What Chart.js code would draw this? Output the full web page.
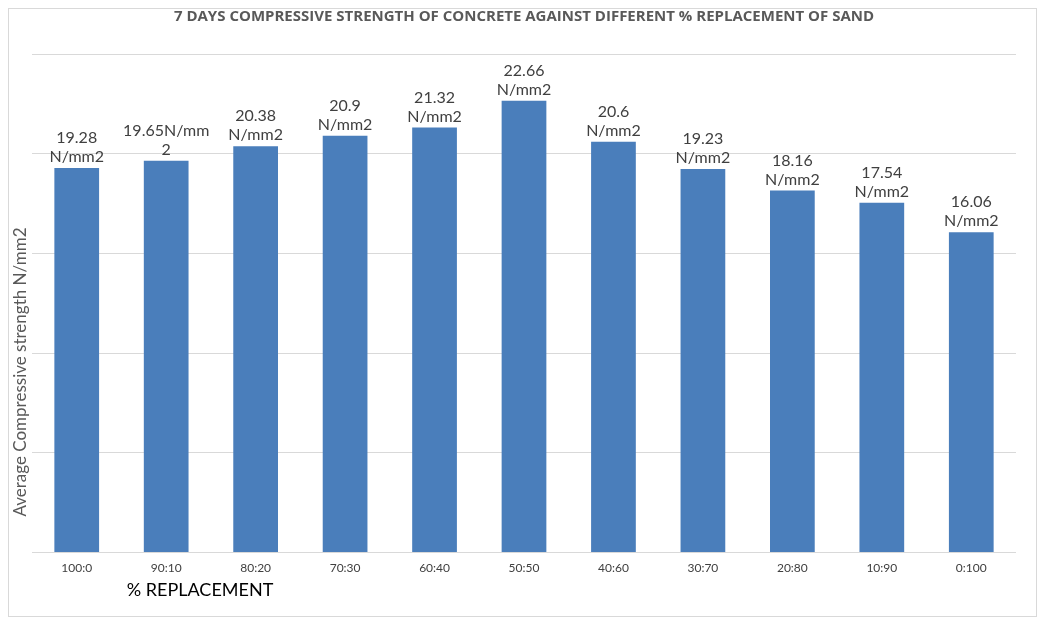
<!DOCTYPE html>
<html>
<head>
<meta charset="utf-8">
<script src="https://cdn.jsdelivr.net/npm/chart.js@4.4.1/dist/chart.umd.min.js"></script>
<style>
  body { margin: 0; background: #fff; }
  #wrap { width: 1040px; height: 619px; }
</style>
</head>
<body>
<div id="wrap"><canvas id="strengthChart" width="1040" height="619"></canvas></div>
<script>
const categories = ['100:0', '90:10', '80:20', '70:30', '60:40', '50:50', '40:60', '30:70', '20:80', '10:90', '0:100'];
const strength = [19.28, 19.65, 20.38, 20.9, 21.32, 22.66, 20.6, 19.23, 18.16, 17.54, 16.06];
const barLabels = [
    ['19.28', 'N/mm2'], ['19.65N/mm', '2'], ['20.38', 'N/mm2'], ['20.9', 'N/mm2'],
    ['21.32', 'N/mm2'], ['22.66', 'N/mm2'], ['20.6', 'N/mm2'], ['19.23', 'N/mm2'],
    ['18.16', 'N/mm2'], ['17.54', 'N/mm2'], ['16.06', 'N/mm2']
];
const yTicks = [0, 5, 10, 15, 20, 25];

const FONT = 'Lato, "Open Sans", sans-serif';

// frame, axis titles and value labels
const extras = {
    id: 'extras',
    beforeDraw(chart) {
        const ctx = chart.ctx;
        ctx.save();
        ctx.fillStyle = '#fff';
        ctx.fillRect(0, 0, chart.width, chart.height);
        ctx.strokeStyle = '#d9d9d9';
        ctx.lineWidth = 1;
        ctx.strokeRect(8.5, 8.5, 1028, 608);
        ctx.restore();
    },
    afterDatasetsDraw(chart) {
        const ctx = chart.ctx;
        const bars = chart.getDatasetMeta(0).data;
        ctx.save();
        ctx.fillStyle = '#404040';
        ctx.font = '16px ' + FONT;
        ctx.textAlign = 'center';
        ctx.textBaseline = 'middle';
        bars.forEach((bar, i) => {
            const lines = barLabels[i];
            lines.forEach((t, j) => {
                ctx.fillText(t, bar.x, bar.y - 11 - (lines.length - 1 - j) * 19);
            });
        });

        // y axis title
        ctx.fillStyle = '#595959';
        ctx.font = '17px ' + FONT;
        ctx.translate(21, 372);
        ctx.rotate(-Math.PI / 2);
        ctx.fillText('Average Compressive strength N/mm2', 0, 0);
        ctx.restore();

        // x axis title
        ctx.save();
        ctx.fillStyle = '#000';
        ctx.font = '18px ' + FONT;
        ctx.textAlign = 'center';
        ctx.textBaseline = 'middle';
        ctx.fillText('% REPLACEMENT', 200, 590);
        ctx.restore();
    }
};

new Chart(document.getElementById('strengthChart'), {
    type: 'bar',
    data: {
        labels: categories,
        datasets: [{
            label: '7 days strength',
            data: strength,
            backgroundColor: '#4a7ebb',
            categoryPercentage: 1,
            barPercentage: 0.5
        }]
    },
    options: {
        responsive: false,
        animation: false,
        layout: { padding: { left: 32, right: 24, top: 0, bottom: 44 } },
        plugins: {
            legend: { display: false },
            tooltip: { enabled: false },
            title: {
                display: true,
                text: '7 DAYS COMPRESSIVE STRENGTH OF CONCRETE AGAINST DIFFERENT % REPLACEMENT OF SAND',
                color: '#595959',
                font: { family: '"Open Sans", sans-serif', size: 15, weight: 'bold' },
                padding: { top: 8, bottom: 28 }
            }
        },
        scales: {
            x: {
                grid: { display: false },
                border: { display: false },
                ticks: { color: '#404040', font: { family: FONT, size: 12 }, padding: 0 }
            },
            y: {
                min: 0,
                max: 25,
                afterBuildTicks(axis) { axis.ticks = yTicks.map(v => ({ value: v })); },
                ticks: { display: false },
                grid: { color: '#d9d9d9', drawTicks: false },
                border: { display: false }
            }
        }
    },
    plugins: [extras]
});
</script>
</body>
</html>
